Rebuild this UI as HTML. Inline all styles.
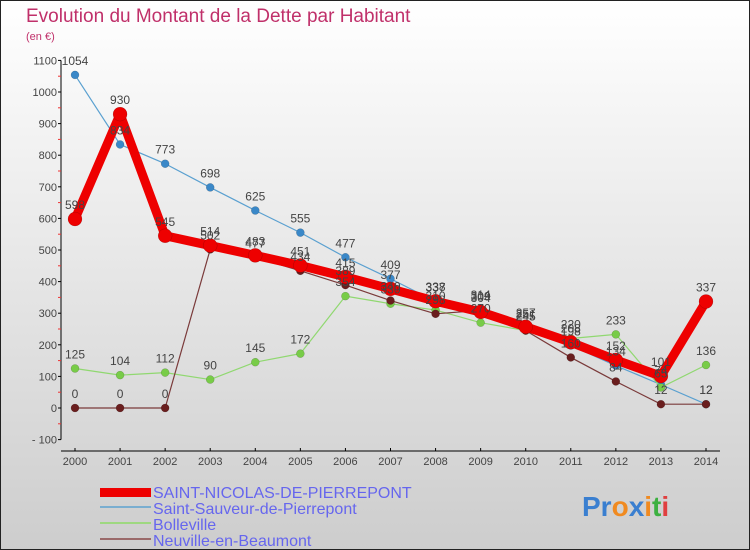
<!DOCTYPE html>
<html><head><meta charset="utf-8"><style>
body{margin:0}
#c{width:750px;height:550px;position:relative;font-family:"Liberation Sans",sans-serif;overflow:hidden}
</style></head><body>
<div id="c">
<svg id="s" width="750" height="550" xmlns="http://www.w3.org/2000/svg">
<defs><linearGradient id="bg" x1="0" y1="0" x2="0" y2="1"><stop offset="0" stop-color="#ffffff"/><stop offset="1" stop-color="#cdcdcd"/></linearGradient></defs>
<rect x="0" y="0" width="750" height="550" fill="url(#bg)" stroke="#222" stroke-width="2"/>
<text x="26" y="22" font-size="19" fill="#c0306a">Evolution du Montant de la Dette par Habitant</text>
<text x="26" y="40" font-size="11" fill="#c0306a">(en €)</text>
<g id="axes"></g><g id="series"></g><g id="labels"></g>
<g>
<rect x="100" y="488" width="51" height="9" fill="#ee0000"/>
<line x1="100" y1="507" x2="151" y2="507" stroke="#7aaed0" stroke-width="2"/>
<line x1="100" y1="523" x2="151" y2="523" stroke="#9ed880" stroke-width="2"/>
<line x1="100" y1="539" x2="151" y2="539" stroke="#9a6a6a" stroke-width="2"/>
<text x="153" y="498" font-size="16" fill="#6666ee">SAINT-NICOLAS-DE-PIERREPONT</text>
<text x="153" y="514" font-size="16" fill="#6666ee">Saint-Sauveur-de-Pierrepont</text>
<text x="153" y="530" font-size="16" fill="#6666ee">Bolleville</text>
<text x="153" y="546" font-size="16" fill="#6666ee">Neuville-en-Beaumont</text>
</g>
<g font-size="28" font-weight="bold">
<text x="582" y="516"><tspan fill="#3a7fd0">Pr</tspan><tspan fill="#f08a20">o</tspan><tspan fill="#3a7fd0">x</tspan><tspan fill="#f08a20">i</tspan><tspan fill="#3cb040">t</tspan><tspan fill="#e04040">i</tspan></text>
</g>
</svg>
</div>
<script>
const years=[2000,2001,2002,2003,2004,2005,2006,2007,2008,2009,2010,2011,2012,2013,2014];
const yTicks=[-100,0,100,200,300,400,500,600,700,800,900,1000,1100];
const stNicolas=[598,930,545,514,483,451,415,377,338,304,257,208,152,101,337];
const stSauveur=[1054,834,773,698,625,555,477,409,337,314,251,198,134,74,12];
const bolleville=[125,104,112,90,145,172,354,330,310,270,245,220,233,65,136];
const neuville=[0,0,0,502,477,434,389,340,298,309,245,160,84,12,12];
const NS="http://www.w3.org/2000/svg";
const X=i=>75+i*(706-75)/(years.length-1);
const Y=v=>408-v*0.316;
function mk(t,a,p){const e=document.createElementNS(NS,t);for(const k in a)e.setAttribute(k,a[k]);p.appendChild(e);return e;}
const ax=document.getElementById('axes'),sg=document.getElementById('series'),lg=document.getElementById('labels');
const ya=mk('line',{x1:61,y1:Y(1100),x2:61,y2:Y(-100),stroke:'#000','stroke-width':1},ax);


yTicks.forEach((v,i)=>{
  mk('line',{x1:58,y1:Y(v),x2:61,y2:Y(v),stroke:'#000'},ax);
  if(i<yTicks.length-1)mk('line',{x1:58,y1:Y(v+50),x2:61,y2:Y(v+50),stroke:'#e33'},ax);
  const t=mk('text',{x:57,y:Y(v)+4,'font-size':11,fill:'#444','text-anchor':'end'},ax);
  t.textContent=v<0?'- '+(-v):v;
  
  
});
const xa=mk('line',{x1:61,y1:451,x2:720,y2:451,stroke:'#000'},ax);


years.forEach((y,i)=>{
  mk('line',{x1:X(i),y1:448,x2:X(i),y2:451,stroke:'#000'},ax);
  const t=mk('text',{x:X(i),y:465,'font-size':11,fill:'#444','text-anchor':'middle'},ax);
  t.textContent=y;
  
  
});
function series(vals,name,line,dot,w,r){
  const g=mk('g',{},sg);
  
  
  mk('polyline',{points:vals.map((v,i)=>X(i)+','+Y(v)).join(' '),fill:'none',stroke:line,'stroke-width':w,'stroke-linejoin':'round'},g);
  vals.forEach((v,i)=>{
    const c=mk('circle',{cx:X(i),cy:Y(v),r:r,fill:dot,stroke:'rgba(0,0,0,0.25)','stroke-width':0.5},g);
    
    
    const t=mk('text',{x:X(i),y:Y(v)-10,'font-size':12,fill:'#444','text-anchor':'middle'},lg);
    t.textContent=v;
    
    
  });
}
series(stSauveur,'saint-sauveur-series','#5aa0d0','#3a88c8',1.2,4);
series(bolleville,'bolleville-series','#90d870','#78cc48',1.2,4);
series(neuville,'neuville-series','#7a3a3a','#6a1e1e',1.2,4);
series(stNicolas,'saint-nicolas-series','#ee0000','#ee0000',9,7);
</script>
</body></html>
